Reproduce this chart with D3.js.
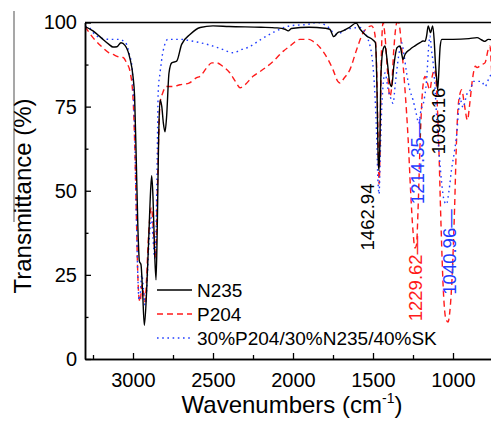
<!DOCTYPE html>
<html>
<head>
<meta charset="utf-8">
<script src="https://cdn.jsdelivr.net/npm/d3@7"></script>
<style>
  body { margin: 0; background: #fff; }
  text { font-family: Arial, "Liberation Sans", sans-serif; }
</style>
</head>
<body>
<svg id="chart" width="491" height="422"></svg>
<script>
// spectra: wavenumber (cm-1) and transmittance (%)
var n235Wave = [3300,3250,3200,3150,3125,3100,3075,3050,3020,3000,2990,2980,2970,2960,2950,2940,2929,2915,2900,2890,2883,2875,2865,2856,2848,2840,2831,2820,2810,2800,2790,2775,2758,2727,2696,2644,2580,2500,2400,2200,2100,2050,2030,2010,1900,1800,1770,1745,1720,1700,1650,1605,1580,1540,1500,1485,1475,1468,1463,1458,1450,1437,1425,1410,1395,1383,1370,1350,1331,1320,1312,1300,1269,1240,1206,1187,1175,1165,1155,1140,1127,1118,1110,1100,1096,1090,1080,1070,1000,900,850,820,800,780,750];
var n235T    = [98.8,97.5,95.5,93.5,92.7,92.8,94.0,93.2,89.5,84,78,60,40,29,28,20,10,20,38,50,54.5,48,32,23.5,40,65,77,75,70,67.5,72,85,88,88.5,93.5,96.4,98.5,99,98.8,98.6,98.4,98,97.5,98.2,98.6,98.3,98,95.8,97,97.3,98.5,99.8,98,96,94.8,94,80,60,56,62,85,92,93,88,82,81,87,92.5,93,90.5,89,90.5,92,93,94,94.5,94.4,96,99,97,99,95,88,82,80,84,93,95,95,95.2,95.5,94.8,94.4,95,94.8];

var p204Wave = [3300,3250,3200,3150,3125,3090,3062,3040,3019,3000,2990,2980,2970,2962,2955,2945,2935,2925,2915,2905,2895,2885,2875,2865,2858,2850,2840,2831,2815,2790,2750,2706,2650,2602,2581,2540,2508,2477,2440,2394,2360,2331,2300,2250,2206,2125,2060,2019,1956,1900,1875,1830,1787,1750,1720,1706,1680,1644,1602,1561,1508,1490,1478,1470,1462,1455,1448,1437,1425,1410,1395,1385,1370,1350,1340,1320,1300,1280,1265,1250,1238,1228,1218,1205,1190,1175,1160,1145,1130,1115,1105,1090,1075,1060,1045,1031,1020,1005,990,980,972,960,945,930,910,895,880,860,850,821,800,780,769,758,750];
var p204T    = [98.8,95.5,93,91,90.5,89.8,89.6,88,85.5,77.7,65,45,25,18,17,22,20,17,24,35,42,45,40,32,30,45,65,76,79,81,81,81.5,82,83.6,84,86.5,88,88,87,85,82.5,80.6,81.5,84,85.4,88.4,91.5,93,95,95,94.4,92.5,89.5,86,82.5,82,83.5,86,92,97,99,97,88,70,52,65,90,100,96,86,78,80,92,100,100,92,80,65,50,38,33,34,45,65,80,84,82,80,84,86,82,65,40,20,12,11,14,25,45,62,72,78,80,76,71,76,82.5,87,86.6,87.5,88,92,93,85,78];

var mixWave = [3300,3275,3250,3206,3150,3081,3060,3040,3020,3008,3000,2990,2980,2970,2962,2955,2945,2935,2925,2915,2905,2895,2885,2875,2865,2858,2850,2842,2831,2812,2781,2700,2644,2580,2500,2440,2375,2320,2281,2200,2125,2019,1900,1852,1789,1727,1700,1664,1581,1531,1500,1480,1468,1462,1455,1445,1425,1405,1385,1375,1360,1340,1321,1305,1290,1270,1250,1230,1214,1200,1185,1165,1150,1144,1135,1123,1115,1100,1085,1070,1055,1041,1025,1010,990,977,965,956,945,935,925,906,890,874,850,821,800,770,750];
var mixT    = [98.8,98.5,97,95.5,95,95,94.5,93.5,90,87.5,82,68,45,25,17.5,19,25,21,16,20,30,38,42,36,30,34,55,80,85,91.5,95,95,94.6,94,93,92,91,92,92.6,95,97,99,99.5,100,99,96.4,97,98,98.5,95,87,70,52,49,60,75,85,80,77,76,82,90,94,90,85,80,77,73,70,74,76,83,94,96,92,87.5,82.5,70,60,52,47,46,50,56,62,66.7,74,77.7,75.5,74.7,76.6,79.5,80,82.5,82.5,82.5,81,84,85];

var seriesNames = ["N235", "P204", "30%P204/30%N235/40%SK"];
var xMajorTicks = [3000, 2500, 2000, 1500, 1000];
var xMinorTicks = [3250, 2750, 2250, 1750, 1250];
var yMajorTicks = [0, 25, 50, 75, 100];
var yMinorTicks = [12.5, 37.5, 62.5, 87.5];

// peak labels: text and the point (wavenumber, %T) where the label is centred
var peakText  = ["1462.94", "1229.62\u2014", "1214.35\u2014", "1096.16", "1040.96\u2014"];
var peakWave  = [1533, 1237, 1222, 1089, 1025];
var peakT     = [42.2, 23.9, 58.7, 70.7, 31.8];
var peakColor = ["#000", "#ff1a1a", "#1f3cff", "#000", "#1f3cff"];

var svg = d3.select("#chart");
var plotLeft = 85, plotRight = 493, plotTop = 22.5, plotBottom = 359;

var x = d3.scaleLinear().domain([3300, 750]).range([plotLeft, plotRight]);
var y = d3.scaleLinear().domain([0, 100]).range([plotBottom, plotTop]);

svg.append("clipPath").attr("id", "plotclip")
  .append("rect").attr("x", plotLeft).attr("y", plotTop)
  .attr("width", plotRight - plotLeft).attr("height", plotBottom - plotTop);

// stray grey rule at the far left of the original figure
svg.append("line").attr("x1", 14).attr("x2", 14).attr("y1", 11).attr("y2", 222)
  .attr("stroke", "#8a8a8a").attr("stroke-width", 1.5);

var styles = [
  {color: "#000", dash: null},
  {color: "#ff1a1a", dash: "6,4"},
  {color: "#1f3cff", dash: "1.6,3.6"}
];
var waves = [n235Wave, p204Wave, mixWave];
var trans = [n235T, p204T, mixT];

var line = d3.line()
  .x(function(d){ return x(d[0]); })
  .y(function(d){ return y(d[1]); })
  .curve(d3.curveMonotoneX);

var plot = svg.append("g").attr("clip-path", "url(#plotclip)");
// draw P204 first, then blend, then N235 on top
[1, 2, 0].forEach(function(i){
  var pts = d3.zip(waves[i], trans[i]);
  plot.append("path")
    .datum(pts)
    .attr("d", line)
    .attr("fill", "none")
    .attr("stroke", styles[i].color)
    .attr("stroke-width", 1.4)
    .attr("stroke-dasharray", styles[i].dash);
});

// axes, ticks pointing inward
function styleAxis(g){
  g.selectAll("path").attr("stroke", "#000").attr("stroke-width", 1.5);
  g.selectAll("line").attr("stroke", "#000").attr("stroke-width", 1.3);
  g.selectAll("text").attr("font-size", 20).attr("fill", "#000")
    .style("font-family", "Arial, 'Liberation Sans', sans-serif");
}

svg.append("g").attr("transform", "translate(0," + plotBottom + ")")
  .call(d3.axisBottom(x).tickValues(xMinorTicks).tickSizeInner(-4).tickSizeOuter(0).tickFormat(""))
  .call(styleAxis);
svg.append("g").attr("transform", "translate(0," + plotBottom + ")")
  .call(d3.axisBottom(x).tickValues(xMajorTicks).tickSizeInner(-6).tickSizeOuter(0).tickPadding(14).tickFormat(d3.format("d")))
  .call(styleAxis);

svg.append("g").attr("transform", "translate(" + plotLeft + ",0)")
  .call(d3.axisLeft(y).tickValues(yMinorTicks).tickSizeInner(-3.5).tickSizeOuter(0).tickFormat(""))
  .call(styleAxis);
svg.append("g").attr("transform", "translate(" + plotLeft + ",0)")
  .call(d3.axisLeft(y).tickValues(yMajorTicks).tickSizeInner(-6).tickSizeOuter(0).tickPadding(8).tickFormat(d3.format("d")))
  .call(styleAxis);

// top frame line
svg.append("line").attr("x1", plotLeft).attr("x2", 491).attr("y1", plotTop).attr("y2", plotTop)
  .attr("stroke", "#000").attr("stroke-width", 1.5);

// axis titles
var xt = svg.append("text").attr("x", 292).attr("y", 413)
  .attr("text-anchor", "middle").attr("font-size", 24);
xt.append("tspan").text("Wavenumbers (cm");
xt.append("tspan").attr("font-size", 14).attr("dy", -10).text("-1");
xt.append("tspan").attr("dy", 10).text(")");

svg.append("text")
  .attr("transform", "translate(31,196) rotate(-90)")
  .attr("text-anchor", "middle").attr("font-size", 24)
  .text("Transmittance (%)");

// legend
var legend = svg.append("g");
seriesNames.forEach(function(name, i){
  var ly = 290 + i * 24;
  legend.append("line").attr("x1", 157).attr("x2", 192).attr("y1", ly).attr("y2", ly)
    .attr("stroke", styles[i].color).attr("stroke-width", 1.4)
    .attr("stroke-dasharray", styles[i].dash);
  legend.append("text").attr("x", 197).attr("y", ly)
    .attr("dominant-baseline", "central").attr("font-size", 19)
    .text(name);
});

// rotated peak labels
peakText.forEach(function(t, i){
  svg.append("text")
    .attr("transform", "translate(" + x(peakWave[i]) + "," + y(peakT[i]) + ") rotate(-90)")
    .attr("text-anchor", "middle").attr("dominant-baseline", "central")
    .attr("font-size", 18.5).attr("fill", peakColor[i])
    .text(t);
});
</script>
</body>
</html>
